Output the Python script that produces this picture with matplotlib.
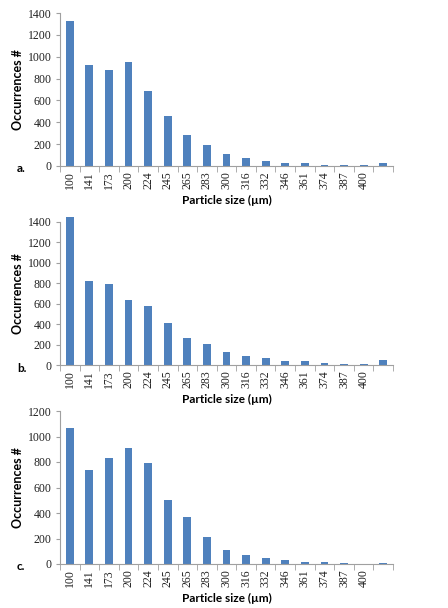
import matplotlib
matplotlib.use('Agg')
import matplotlib.pyplot as plt

sizes = ['100', '141', '173', '200', '224', '245', '265', '283', '300',
         '316', '332', '346', '361', '374', '387', '400', '']
counts_a = [1330, 927, 880, 951, 685, 462, 284, 190, 113, 70, 49, 27, 28, 12, 9, 6, 28]
counts_b = [1450, 821, 792, 640, 581, 415, 263, 205, 130, 84, 65, 42, 42, 16, 10, 10, 49]
counts_c = [1067, 736, 835, 911, 793, 501, 371, 211, 110, 70, 47, 29, 18, 13, 5, 2, 5]
panel_tags = ['a.', 'b.', 'c.']
ymax = [1400, 1400, 1200]

W, H = 448, 608
fig = plt.figure(figsize=(W / 100, H / 100), dpi=100)

# axes boxes in pixels: left, top, right, bottom
boxes = [(60, 13, 393, 166), (60, 222, 393, 365), (60, 411, 393, 564)]
blue = '#4F81BD'
grey = '#A0A0A0'
tickfont = 'Liberation Serif'
labfont = 'Lato'

for counts, tag, top, (l, t, r, b) in zip([counts_a, counts_b, counts_c], panel_tags, ymax, boxes):
    ax = fig.add_axes([l / W, 1 - b / H, (r - l) / W, (b - t) / H])
    x = list(range(len(sizes)))
    ax.bar(x, counts, width=0.4, color=blue, clip_on=False)
    ax.set_xlim(-0.5, len(sizes) - 0.5)
    ax.set_ylim(0, top)
    ax.set_yticks(range(0, top + 1, 200))
    ax.set_xticks(x)
    ax.set_xticklabels(sizes, rotation=90, fontsize=8.5, family=tickfont, color='#222222')
    ax.set_xticks([i - 0.5 for i in range(len(sizes) + 1)], minor=True)
    ax.tick_params(axis='x', which='major', length=0, pad=4)
    ax.tick_params(axis='x', which='minor', length=4, color=grey, direction='out')
    ax.tick_params(axis='y', length=3, color=grey, direction='out', pad=3)
    for lab in ax.get_yticklabels():
        lab.set_fontsize(8.5)
        lab.set_family(tickfont)
        lab.set_color('#222222')
    for s in ['top', 'right']:
        ax.spines[s].set_visible(False)
    ax.spines['left'].set_color(grey)
    ax.spines['bottom'].set_color(grey)
    ax.set_xlabel('Particle size (µm)', fontsize=8.5, fontweight='bold', family=labfont, labelpad=4)
    ax.set_ylabel('Occurrences #', fontsize=9, fontweight='bold', family=labfont, labelpad=3)
    fig.text(17 / W, 1 - (b + 3) / H, tag, fontsize=8.5, fontweight='bold', family=labfont,
             ha='left', va='center')

fig.savefig('out.png', dpi=100)
